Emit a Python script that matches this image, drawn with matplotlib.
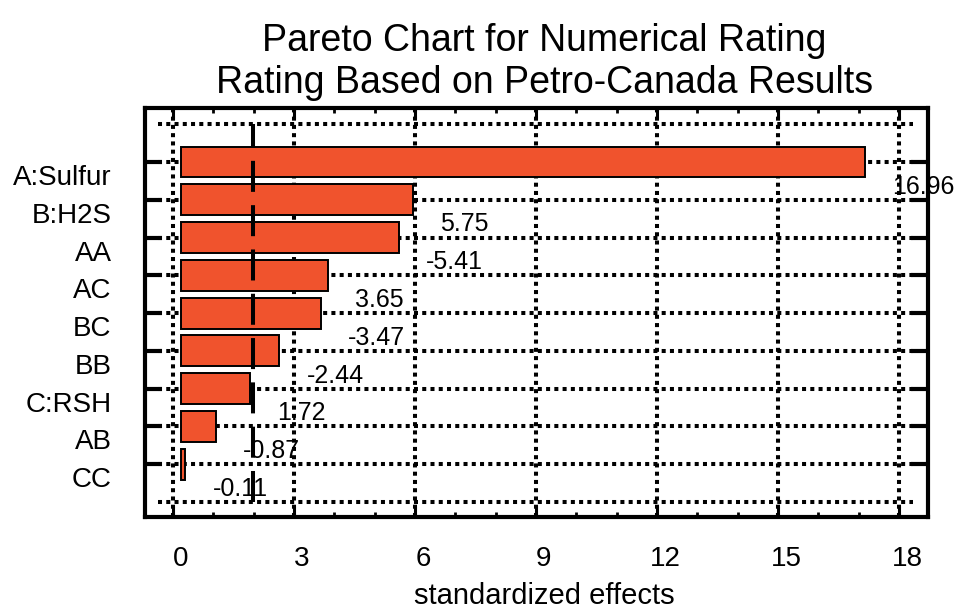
import matplotlib
matplotlib.use("Agg")
import matplotlib.pyplot as plt
import matplotlib.transforms as mtransforms
from matplotlib.ticker import MultipleLocator

plt.rcParams['font.family'] = ['Liberation Sans', 'DejaVu Sans']

# data
effects = ['A:Sulfur', 'B:H2S', 'AA', 'AC', 'BC', 'BB', 'C:RSH', 'AB', 'CC']
values = [16.96, 5.75, -5.41, 3.65, -3.47, -2.44, 1.72, -0.87, -0.11]
critical = 1.98
xticks = [0, 3, 6, 9, 12, 15, 18]

bar_color = '#F0532D'
base = 0.2  # bars start slightly right of zero, like the original
dot = (0, (1, 1.05))

fig = plt.figure(figsize=(9.63, 6.08), dpi=100)
ax = fig.add_axes([0.1506, 0.1497, 0.8131, 0.6727])

pos = list(range(len(effects)))
sizes = [abs(v) for v in values]
ax.barh(pos, sizes, left=base, height=0.82, color=bar_color,
        edgecolor='black', linewidth=1.4, zorder=3)

for p, s, v in zip(pos, sizes, values):
    ax.text(base + s + 0.67, p + 0.84, '%.2f' % v, fontsize=18,
            ha='left', va='baseline', zorder=5)

# dotted grid
for x in xticks:
    ax.axvline(x, color='black', lw=2.9, linestyle=dot, zorder=1)
for y in range(-1, len(effects) + 1):
    ax.plot([-0.37, 18.35], [y, y], color='black', lw=2.9, linestyle=dot, zorder=1)

# significance line (drawn bottom to top so the dashes line up)
ax.plot([critical, critical], [len(effects), -1], color='black', lw=2.9,
        linestyle=(0, (7.7, 3.3)), zorder=4)

ax.set_xlim(-0.69, 18.72)
ax.set_ylim(9.4, -1.43)

ax.set_xticks(xticks)
ax.xaxis.set_minor_locator(MultipleLocator(1))
ax.set_yticks(pos)
ax.set_yticklabels(effects)

ax.tick_params(axis='x', which='major', direction='in', top=True, length=8,
               width=2.2, labelsize=20, pad=21)
ax.tick_params(axis='x', which='minor', direction='in', top=True, length=3.5, width=2)
ax.tick_params(axis='y', which='major', direction='in', right=True, length=12,
               width=3, labelsize=20, pad=24)

for sp in ax.spines.values():
    sp.set_linewidth(3)

# labels sit a bit off their ticks in the original
yshift = mtransforms.ScaledTranslation(0, -0.13, fig.dpi_scale_trans)
for lab in ax.get_yticklabels():
    lab.set_transform(lab.get_transform() + yshift)
xshift = mtransforms.ScaledTranslation(0.08, 0, fig.dpi_scale_trans)
for lab in ax.get_xticklabels():
    lab.set_transform(lab.get_transform() + xshift)

ax.set_title('Pareto Chart for Numerical Rating\nRating Based on Petro-Canada Results',
             fontsize=27, x=0.51, pad=11)
ax.set_xlabel('standardized effects', fontsize=21, x=0.51, labelpad=7)

fig.savefig('out.png', dpi=100)
